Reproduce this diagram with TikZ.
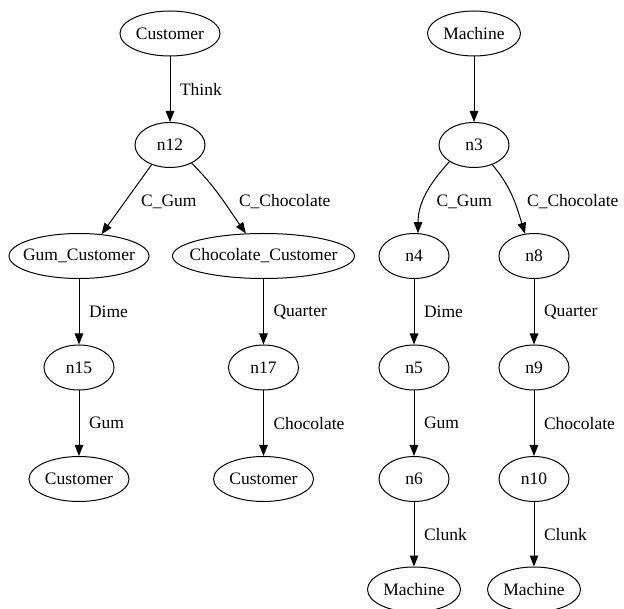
\documentclass[tikz,border=0pt]{standalone}
\usepackage{fontspec}
\setmainfont{Liberation Serif}
\usepackage{tikz}
\usetikzlibrary{positioning,arrows.meta,shapes.geometric}
\newcommand{\gvfont}{\fontsize{17.5}{21}\selectfont}
\tikzset{
  state/.style={ellipse, draw, line width=1pt, minimum width=70pt, minimum height=45pt,
                inner xsep=-10pt, inner ysep=0pt, font=\gvfont},
  wide/.style={state, minimum width=#1},
  edge/.style={-{Triangle[length=11pt, width=8.5pt]}, line width=1pt},
  lbl/.style={font=\gvfont, inner sep=0pt}
}

\begin{document}
\begin{tikzpicture}[x=1pt, y=1pt]
    \useasboundingbox (0,0) rectangle (624,-609);
    % customer side
    \node[wide=100pt] (cust) at (170,-33.5) {Customer};
    \node[state] (n12) at (170,-145) {n12};
    \node[wide=140pt] (gumc) at (79,-256) {Gum\_Customer};
    \node[wide=182pt] (chocc) at (263.5,-256) {Chocolate\_Customer};
    \node[state] (n15) at (79,-367.5) {n15};
    \node[state] (n17) at (263.5,-367.5) {n17};
    \node[wide=100pt] (custa) at (79,-479) {Customer};
    \node[wide=100pt] (custb) at (263.5,-479) {Customer};
    % machine side
    \node[wide=93pt] (mach) at (474,-33.5) {Machine};
    \node[state] (n3) at (474,-145) {n3};
    \node[state] (n4) at (414,-256) {n4};
    \node[state] (n8) at (534,-256) {n8};
    \node[state] (n5) at (414,-367.5) {n5};
    \node[state] (n9) at (534,-367.5) {n9};
    \node[state] (n6) at (414,-479) {n6};
    \node[state] (n10) at (534,-479) {n10};
    \node[wide=93pt] (macha) at (414,-589.5) {Machine};
    \node[wide=93pt] (machb) at (534,-589.5) {Machine};

    \draw[edge] (cust) -- node[lbl, right=9.5pt] {Think} (n12);
    \draw[edge] (n12.-133) -- node[lbl, right=14pt, yshift=-2pt] {C\_Gum} (gumc.44);
    \draw[edge] (n12.-40) to[out=-45, in=125] node[lbl, right=18pt, yshift=-5pt] {C\_Chocolate} (chocc.128);
    \draw[edge] (gumc) -- node[lbl, right=9.5pt] {Dime} (n15);
    \draw[edge] (chocc) -- node[lbl, right=9.5pt] {Quarter} (n17);
    \draw[edge] (n15) -- node[lbl, right=9.5pt] {Gum} (custa);
    \draw[edge] (n17) -- node[lbl, right=9.5pt] {Chocolate} (custb);

    \draw[edge] (mach) -- (n3);
    \draw[edge] (n3.-146) to[out=-132, in=90] node[lbl, right=10pt, yshift=-7pt] {C\_Gum} (n4.80);
    \draw[edge] (n3.-47) to[out=-50, in=107] node[lbl, right=14pt, yshift=-4pt] {C\_Chocolate} (n8.112);
    \draw[edge] (n4) -- node[lbl, right=9.5pt] {Dime} (n5);
    \draw[edge] (n8) -- node[lbl, right=9.5pt] {Quarter} (n9);
    \draw[edge] (n5) -- node[lbl, right=9.5pt] {Gum} (n6);
    \draw[edge] (n9) -- node[lbl, right=9.5pt] {Chocolate} (n10);
    \draw[edge] (n6) -- node[lbl, right=9.5pt] {Clunk} (macha);
    \draw[edge] (n10) -- node[lbl, right=9.5pt] {Clunk} (machb);
  \end{tikzpicture}
\end{document}
